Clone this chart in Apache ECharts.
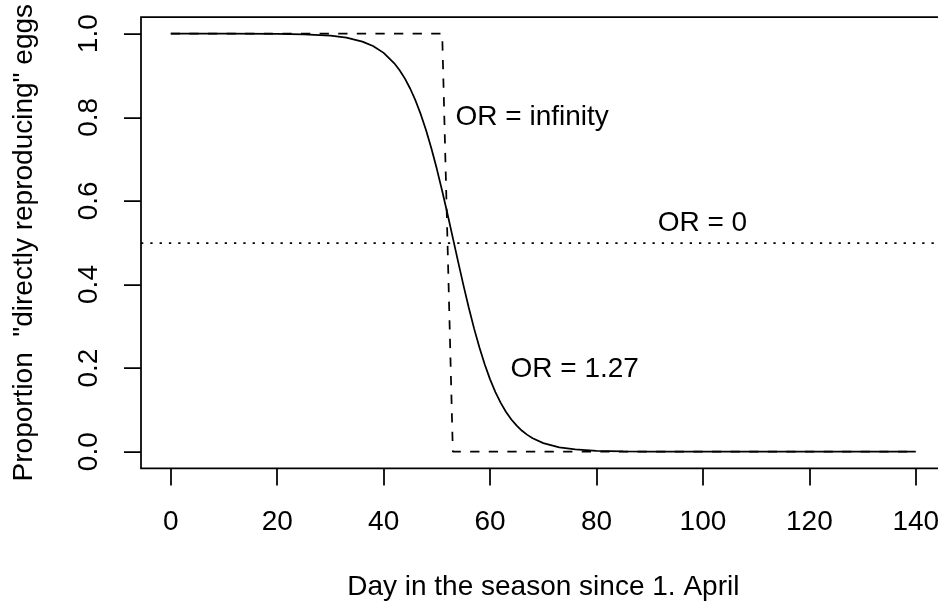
<!DOCTYPE html>
<html><head><meta charset="utf-8">
<script src="https://cdn.jsdelivr.net/npm/echarts@6/dist/echarts.min.js"></script>
<style>html,body{margin:0;padding:0;background:#fff}#c{width:938px;height:603px}</style>
</head><body><div id="c"></div>
<script>
// OR = 1.27 curve
const days = [0,10,20,25,30,33,36,38,40,42,43,44,45,46,47,48,49,50,51,52,53,54,55,56,57,58,59,60,61,62,63,64,65,66,67,68,70,73,76,80,85,90,100,120,140];
const proportion = [1.0000,1.0000,0.9995,0.9985,0.9952,0.9905,0.9812,0.9706,0.9542,0.9293,0.9127,0.8925,0.8683,0.8397,0.8063,0.7678,0.7243,0.6761,0.6238,0.5686,0.5115,0.4541,0.3979,0.3443,0.2944,0.2490,0.2085,0.1731,0.1426,0.1167,0.0950,0.0770,0.0622,0.0500,0.0402,0.0322,0.0205,0.0104,0.0053,0.0021,0.0007,0.0002,0.0000,0,0];
// OR = infinity (step)
const stepDays = [0,51,53,140];
const stepProportion = [1,1,0,0];
// OR = 0
const orZeroLevel = 0.5;
// ticks
const xTicks = [0,20,40,60,80,100,120,140];
const yTicks = [0,0.2,0.4,0.6,0.8,1.0];
// annotations
const noteText = ['OR = infinity','OR = 0','OR = 1.27'];
const noteX = [68,100,76];
const noteY = [0.8,0.545,0.197];

const FONT = 'Liberation Sans, Arial, Helvetica, sans-serif';
const FS = 28;
const LW = 1.75;

const chart = echarts.init(document.getElementById('c'), null, {renderer:'canvas'});
chart.setOption({
  animation:false,
  backgroundColor:'#fff',
  grid:{left:141, top:17, right:-7.6, bottom:134.6, show:true, borderColor:'#000', borderWidth:LW, containLabel:false, outerBoundsMode:'none'},
  xAxis:{
    type:'value', min:-5.6, max:145.6,
    name:'Day in the season since 1. April', nameLocation:'middle', nameGap:105, nameMoveOverlap:false,
    nameTextStyle:{color:'#000', fontFamily:FONT, fontSize:FS},
    axisLine:{show:false, onZero:false},
    axisTick:{show:true, customValues:xTicks, length:17, inside:false, lineStyle:{color:'#000', width:LW}},
    axisLabel:{show:true, customValues:xTicks, margin:40, color:'#000', fontFamily:FONT, fontSize:FS},
    splitLine:{show:false}
  },
  yAxis:{
    type:'value', min:-0.04, max:1.04,
    name:'Proportion  "directly reproducing" eggs', nameLocation:'middle', nameGap:103, nameMoveOverlap:false,
    nameTextStyle:{color:'#000', fontFamily:FONT, fontSize:FS},
    axisLine:{show:false, onZero:false},
    axisTick:{show:true, customValues:yTicks, length:17, inside:false, lineStyle:{color:'#000', width:LW}},
    axisLabel:{show:true, customValues:yTicks, rotate:90, margin:38, color:'#000', fontFamily:FONT, fontSize:FS,
      formatter:v=>Number(v).toFixed(1)},
    splitLine:{show:false}
  },
  series:[
    {type:'line', data:days.map((d,i)=>[d,proportion[i]]), symbol:'none', smooth:false,
     lineStyle:{color:'#000', width:LW}, z:3,
     markLine:{silent:true, symbol:['none','none'], label:{show:false},
       lineStyle:{color:'#000', width:LW, type:[2.3,7]}, data:[{yAxis:orZeroLevel}]}},
    {type:'line', data:stepDays.map((d,i)=>[d,stepProportion[i]]), symbol:'none',
     lineStyle:{color:'#000', width:LW, type:[9.3,9.3]}, z:2},
    {type:'scatter', data:noteX.map((x,i)=>({value:[x,noteY[i]], name:noteText[i]})), symbolSize:1,
     itemStyle:{color:'#fff', opacity:1}, z:5, silent:true,
     label:{show:true, position:[0,0], align:'center', verticalAlign:'middle', formatter:'{b}', color:'#000',
       textBorderWidth:0, fontFamily:FONT, fontSize:FS, opacity:1}}
  ]
});
</script></body></html>
